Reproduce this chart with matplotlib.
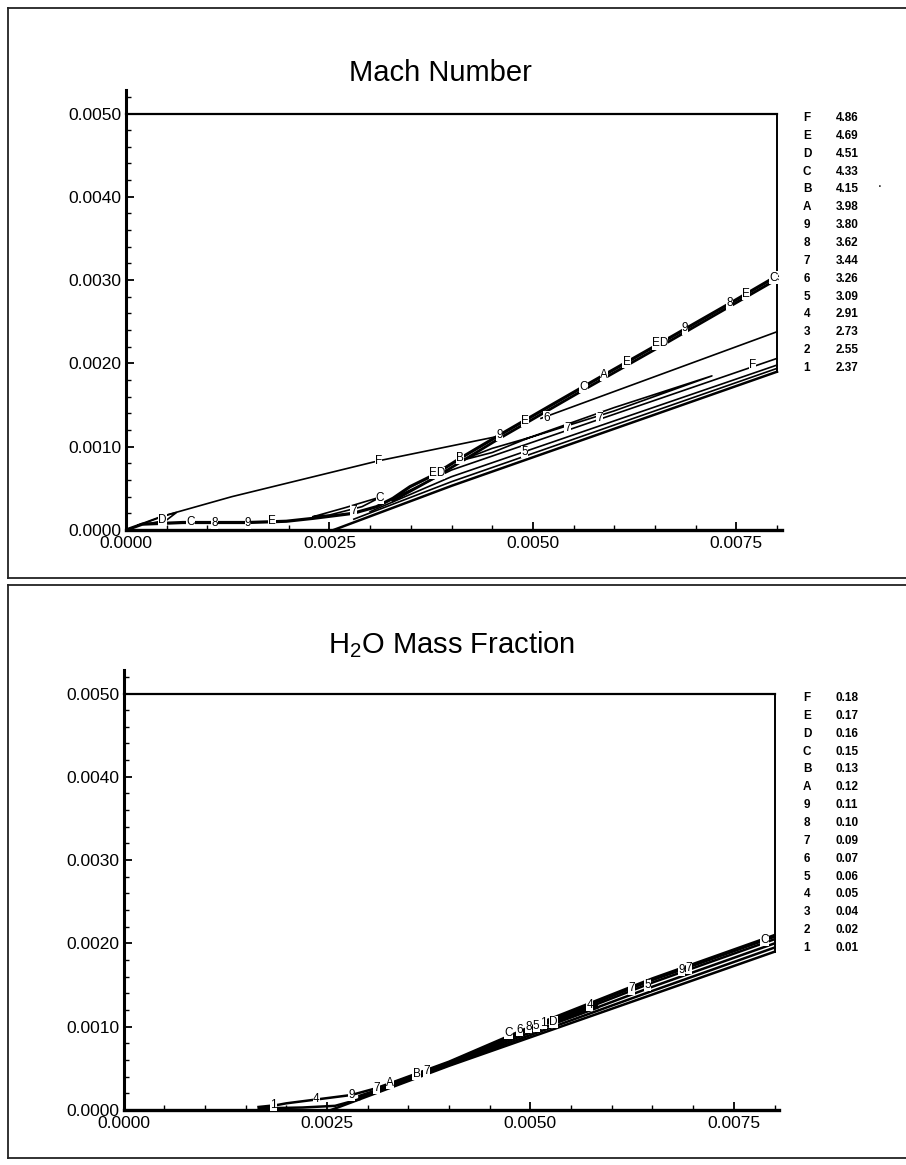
import matplotlib
matplotlib.use("Agg")
import matplotlib.pyplot as plt
from matplotlib.lines import Line2D
from matplotlib.ticker import FixedLocator, FuncFormatter

plt.rcParams["font.family"] = ["Liberation Sans", "DejaVu Sans"]
plt.rcParams["mathtext.fontset"] = "custom"
plt.rcParams["mathtext.rm"] = "Liberation Sans"
plt.rcParams["mathtext.it"] = "Liberation Sans:italic"
plt.rcParams["mathtext.bf"] = "Liberation Sans:bold"

W, H = 906, 1165

# ---------------- contour legends ----------------
level_keys = ["F", "E", "D", "C", "B", "A", "9", "8", "7", "6", "5", "4", "3", "2", "1"]
mach_levels = [4.86, 4.69, 4.51, 4.33, 4.15, 3.98, 3.80, 3.62, 3.44, 3.26, 3.09, 2.91, 2.73, 2.55, 2.37]
h2o_levels = [0.18, 0.17, 0.16, 0.15, 0.13, 0.12, 0.11, 0.10, 0.09, 0.07, 0.06, 0.05, 0.04, 0.02, 0.01]

# ---------------- axis ticks (m) ----------------
x_major = [0.0, 0.0025, 0.0050, 0.0075]
x_minor = [0.0005, 0.0010, 0.0015, 0.0020, 0.0030, 0.0035, 0.0040, 0.0045,
           0.0055, 0.0060, 0.0065, 0.0070, 0.0080]
y_major = [0.0, 0.0010, 0.0020, 0.0030, 0.0040, 0.0050]
y_minor = [0.0002, 0.0004, 0.0006, 0.0008, 0.0012, 0.0014, 0.0016, 0.0018,
           0.0022, 0.0024, 0.0026, 0.0028, 0.0032, 0.0034, 0.0036, 0.0038,
           0.0042, 0.0044, 0.0046, 0.0048, 0.0052]

# ---------------- domain outline ----------------
top_x = [0.0, 0.0080]
top_y = [0.0050, 0.0050]
outflow_x = [0.0080, 0.0080]
outflow_y = [0.0050, 0.0019]
wall_x = [0.00255, 0.0040, 0.0080]
wall_y = [0.0, 0.00053, 0.0019]

# ---------------- Mach number contours ----------------
shock_x = [0.0, 0.0002, 0.0007, 0.0015, 0.00197, 0.0023, 0.00279, 0.00308, 0.00328,
           0.00349, 0.00378, 0.00414, 0.00459, 0.00521, 0.00562, 0.00656, 0.00742, 0.0080]
shock_y = [0.0, 0.00007, 0.00009, 0.00009, 0.000105, 0.00014, 0.0002, 0.00028, 0.00038,
           0.00052, 0.00066, 0.00088, 0.00114, 0.00149, 0.00172, 0.00224, 0.00272, 0.00305]
# bunched companion levels riding just under the shock
shock_b_x = [0.00328, 0.00378, 0.00459, 0.00562, 0.00656, 0.0080]
shock_b_y = [0.00035, 0.00062, 0.00110, 0.00168, 0.00220, 0.00301]
mach_f_x = [0.0, 0.0005, 0.0013, 0.0031, 0.0046]
mach_f_y = [0.0, 0.00018, 0.0004, 0.00083, 0.00113]
mach_e6_x = [0.0051, 0.0080]
mach_e6_y = [0.00134, 0.00238]
mach_bl1_x = [0.0028, 0.0040, 0.0080]
mach_bl1_y = [0.00013, 0.00058, 0.00194]
mach_bl2_x = [0.0030, 0.0040, 0.0080]
mach_bl2_y = [0.00022, 0.00064, 0.00198]
mach_bl3_x = [0.0032, 0.0040, 0.0080]
mach_bl3_y = [0.00034, 0.00072, 0.00206]
mach_loop_d_x = [0.00015, 0.0004, 0.00062, 0.0005, 0.0003, 0.00015]
mach_loop_d_y = [0.00006, 0.00015, 0.00021, 0.00012, 0.00008, 0.00006]
mach_loop_c_x = [0.0023, 0.0027, 0.00314, 0.0029, 0.0025, 0.0023]
mach_loop_c_y = [0.00016, 0.00027, 0.0004, 0.00028, 0.00018, 0.00016]
mach_loop_b_x = [0.0041, 0.0045, 0.00496, 0.0045, 0.0041]
mach_loop_b_y = [0.00083, 0.00098, 0.00111, 0.00093, 0.00083]
mach_loop_7_x = [0.0049, 0.0060, 0.0072, 0.0060, 0.0049]
mach_loop_7_y = [0.00109, 0.00147, 0.00185, 0.00143, 0.00109]
mach_labels = [
    ("D", 0.00045, 0.00012), ("C", 0.00079, 0.00010), ("8", 0.00109, 0.00009),
    ("9", 0.00150, 0.00009), ("E", 0.00179, 0.00011), ("7", 0.00280, 0.00023),
    ("C", 0.00312, 0.00038), ("F", 0.00310, 0.00083), ("ED", 0.00382, 0.00068),
    ("B", 0.00410, 0.00086), ("9", 0.00459, 0.00114), ("E", 0.00490, 0.00131),
    ("6", 0.00517, 0.00135), ("5", 0.00490, 0.00094), ("7", 0.00543, 0.00123),
    ("7", 0.00582, 0.00135), ("C", 0.00562, 0.00172), ("A", 0.00587, 0.00186),
    ("E", 0.00615, 0.00202), ("ED", 0.00656, 0.00224), ("9", 0.00687, 0.00242),
    ("8", 0.00742, 0.00272), ("E", 0.00762, 0.00283), ("C", 0.00796, 0.00303),
    ("F", 0.00770, 0.00198),
]

# ---------------- H2O mass fraction contours ----------------
h2o_upper_x = [0.00172, 0.0020, 0.0024, 0.0028, 0.0031, 0.0033, 0.0040, 0.0050, 0.0065, 0.0080]
h2o_upper_y = [0.00003, 0.00008, 0.00013, 0.00018, 0.00026, 0.00033, 0.00058, 0.0010, 0.00158, 0.0021]
h2o_lower_x = [0.00172, 0.0022, 0.0026, 0.0029]
h2o_lower_y = [0.00002, 0.00003, 0.00005, 0.00013]
h2o_m1_x = [0.0029, 0.0033, 0.0040, 0.0050, 0.0065, 0.0080]
h2o_m1_y = [0.00015, 0.00029, 0.00054, 0.00090, 0.00143, 0.00195]
h2o_m2_x = [0.0029, 0.0033, 0.0040, 0.0050, 0.0065, 0.0080]
h2o_m2_y = [0.00017, 0.00030, 0.00055, 0.00093, 0.00148, 0.0020]
h2o_m3_x = [0.0031, 0.0033, 0.0040, 0.0050, 0.0065, 0.0080]
h2o_m3_y = [0.00023, 0.00031, 0.00056, 0.00096, 0.00153, 0.00205]
h2o_m4_x = [0.0033, 0.0040, 0.0050, 0.0065, 0.0080]
h2o_m4_y = [0.00032, 0.00057, 0.00098, 0.00156, 0.00208]
h2o_core_x = [0.00535, 0.0058]
h2o_core_y = [0.00108, 0.00124]
h2o_start_x = [0.00168, 0.00178]
h2o_start_y = [0.00002, 0.00003]
h2o_labels = [
    ("1", 0.00184, 0.00006), ("4", 0.00237, 0.00013), ("9", 0.00280, 0.00018),
    ("7", 0.00311, 0.00026), ("A", 0.00327, 0.00032), ("B", 0.00360, 0.00043),
    ("7", 0.00372, 0.00047), ("C", 0.00473, 0.00092), ("6", 0.00487, 0.00096),
    ("8", 0.00498, 0.00100), ("5", 0.00507, 0.00101), ("1", 0.00516, 0.00104),
    ("D", 0.00528, 0.00106), ("4", 0.00573, 0.00126), ("7", 0.00624, 0.00146),
    ("5", 0.00644, 0.00150), ("9", 0.00686, 0.00168), ("7", 0.00695, 0.00171),
    ("C", 0.00788, 0.00204),
]


def fx(px):
    return px / W


def fy(py):
    return 1 - py / H


fig = plt.figure(figsize=(W / 100, H / 100), dpi=100)
fig.patch.set_facecolor("white")

X_SCALE = 81375.0   # px per metre
Y_SCALE = 83300.0
XMAX, YMAX = 0.00806, 0.0053


def make_axes(x0_px, y0_px):
    w = XMAX * X_SCALE
    h = YMAX * Y_SCALE
    ax = fig.add_axes([fx(x0_px), fy(y0_px), w / W, h / H])
    ax.set_xlim(0, XMAX)
    ax.set_ylim(0, YMAX)
    for s in ("top", "right"):
        ax.spines[s].set_visible(False)
    ax.spines["left"].set_bounds(0, 0.00528)
    ax.spines["left"].set_linewidth(2.2)
    ax.spines["bottom"].set_linewidth(2.4)
    ax.xaxis.set_major_locator(FixedLocator(x_major))
    ax.xaxis.set_minor_locator(FixedLocator(x_minor))
    ax.yaxis.set_major_locator(FixedLocator(y_major))
    ax.yaxis.set_minor_locator(FixedLocator(y_minor))
    fmt = FuncFormatter(lambda v, p: f"{v:.4f}")
    ax.xaxis.set_major_formatter(fmt)
    ax.yaxis.set_major_formatter(fmt)
    ax.tick_params(which="major", direction="in", length=6, width=1.3,
                   labelsize=12.5, pad=4)
    ax.tick_params(which="minor", direction="in", length=3.5, width=1.0)
    ax.tick_params(axis="y", which="major", pad=3)
    ax.patch.set_alpha(0)
    # domain outline
    ax.plot(top_x, top_y, color="black", lw=1.6, clip_on=False)
    ax.plot(outflow_x, outflow_y, color="black", lw=1.4, clip_on=False)
    ax.plot(wall_x, wall_y, color="black", lw=1.8, clip_on=False)
    return ax


def put_labels(ax, labels):
    for s, x, y in labels:
        ax.text(x, y, s, fontsize=8.5, ha="center", va="center", color="black",
                bbox=dict(facecolor="white", edgecolor="none", pad=0.1), zorder=5)


def put_legend(top_py, values):
    for i, (k, v) in enumerate(zip(level_keys, values)):
        py = top_py + i * 17.85
        fig.text(fx(807), fy(py), k, fontsize=8.5, fontweight="bold",
                 ha="center", va="center")
        fig.text(fx(836), fy(py), f"{v:.2f}", fontsize=8.5, fontweight="bold",
                 ha="left", va="center")


# ---------------- Mach number panel ----------------
ax1 = make_axes(126, 530)
ax1.plot(shock_x, shock_y, color="black", lw=2.3, solid_joinstyle="round")
ax1.plot(shock_b_x, shock_b_y, color="black", lw=2.0, solid_joinstyle="round")
for xs, ys in [(mach_f_x, mach_f_y), (mach_e6_x, mach_e6_y),
               (mach_bl1_x, mach_bl1_y), (mach_bl2_x, mach_bl2_y),
               (mach_bl3_x, mach_bl3_y), (mach_loop_d_x, mach_loop_d_y),
               (mach_loop_c_x, mach_loop_c_y), (mach_loop_b_x, mach_loop_b_y),
               (mach_loop_7_x, mach_loop_7_y)]:
    ax1.plot(xs, ys, color="black", lw=1.2)
put_labels(ax1, mach_labels)
fig.text(fx(440), fy(73), "Mach Number", fontsize=21, ha="center", va="center")
put_legend(118, mach_levels)
fig.text(fx(880), fy(183), ".", fontsize=10, ha="center", va="center")

# ---------------- H2O mass fraction panel ----------------
ax2 = make_axes(123.5, 1110)
for xs, ys in [(h2o_upper_x, h2o_upper_y), (h2o_lower_x, h2o_lower_y),
               (h2o_m1_x, h2o_m1_y), (h2o_m2_x, h2o_m2_y), (h2o_m3_x, h2o_m3_y),
               (h2o_m4_x, h2o_m4_y)]:
    ax2.plot(xs, ys, color="black", lw=1.8)
ax2.plot(h2o_core_x, h2o_core_y, color="black", lw=4)
ax2.plot(h2o_start_x, h2o_start_y, color="black", lw=4)
put_labels(ax2, h2o_labels)
fig.text(fx(452), fy(645), r"H$_\mathregular{2}$O Mass Fraction", fontsize=21,
         ha="center", va="center")
put_legend(698, h2o_levels)

# ---------------- panel frames ----------------
frame_kw = dict(color="#222222", lw=1.3, transform=fig.transFigure)
for ys, ye in [(8, 578), (585, 1158)]:
    fig.add_artist(Line2D([fx(8), fx(906)], [fy(ys), fy(ys)], **frame_kw))
    fig.add_artist(Line2D([fx(8), fx(8)], [fy(ys), fy(ye)], **frame_kw))
    fig.add_artist(Line2D([fx(8), fx(906)], [fy(ye), fy(ye)], **frame_kw))

fig.savefig("out.png", dpi=100, facecolor="white")
